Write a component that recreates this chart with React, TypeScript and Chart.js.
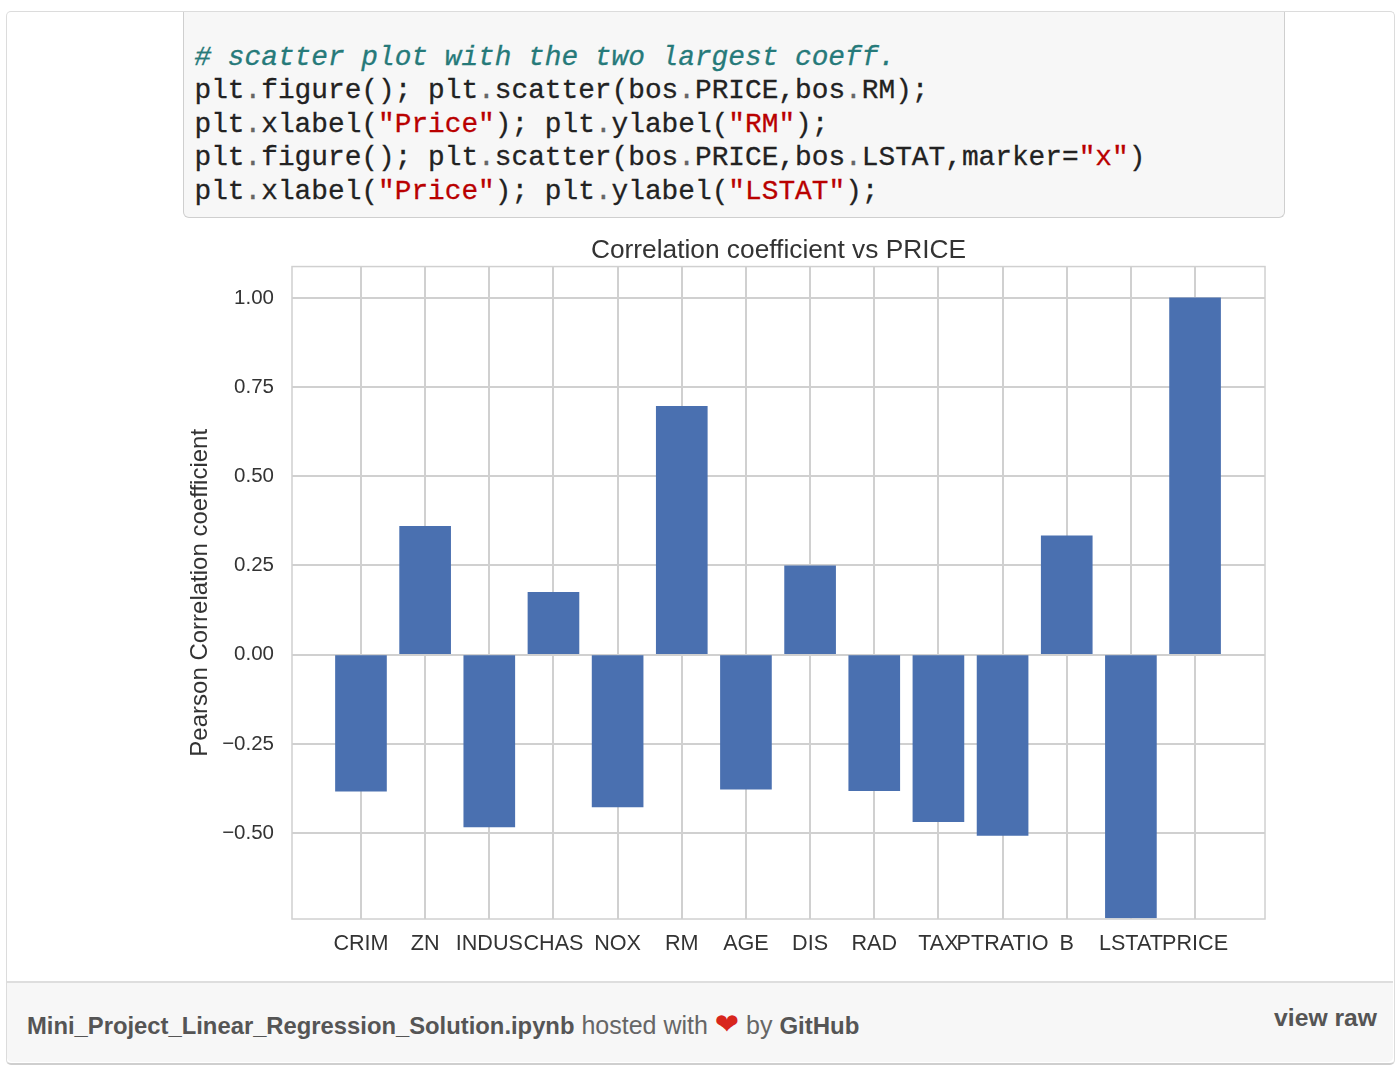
import React, { useEffect, useRef } from "react";
import { Chart, registerables } from "chart.js";

Chart.register(...registerables);

const categories = ["CRIM", "ZN", "INDUS", "CHAS", "NOX", "RM", "AGE", "DIS", "RAD", "TAX", "PTRATIO", "B", "LSTAT", "PRICE"];
const coefficients = [-0.383, 0.36, -0.483, 0.175, -0.427, 0.696, -0.377, 0.249, -0.381, -0.468, -0.507, 0.333, -0.738, 1.0];
const yTicks = [-0.5, -0.25, 0, 0.25, 0.5, 0.75, 1.0];
const chartTitle = "Correlation coefficient vs PRICE";
const yTitle = "Pearson Correlation coefficient";

const textColor = "#333333";
const gridColor = "#d0d0d0";
const sans = "'Liberation Sans', Arial, sans-serif";
const mono = "'Liberation Mono', monospace";

const frame = {
  id: "frame",
  afterDatasetsDraw(chart: any) {
    const { ctx, chartArea: a } = chart;
    ctx.save();
    ctx.strokeStyle = gridColor;
    ctx.lineWidth = 1.5;
    ctx.strokeRect(a.left, a.top, a.right - a.left, a.bottom - a.top);
    ctx.restore();
  },
};

const Str = ({ children }: any) => <span style={{ color: "#b90000" }}>{children}</span>;
const Dot = () => <span style={{ color: "#666" }}>.</span>;

export default function App() {
  const ref = useRef<HTMLCanvasElement>(null);
  useEffect(() => {
    const chart = new Chart(ref.current as HTMLCanvasElement, {
      type: "bar",
      data: {
        datasets: [
          {
            data: coefficients.map((v, i) => ({ x: i, y: v })),
            backgroundColor: "#4a70b0",
            barThickness: 51,
          },
        ],
      },
      plugins: [frame],
      options: {
        animation: false,
        responsive: false,
        layout: { padding: { top: 0, right: 25, bottom: 0, left: 0 } },
        plugins: {
          legend: { display: false },
          tooltip: { enabled: false },
          title: {
            display: true,
            fullSize: false,
            text: chartTitle,
            color: textColor,
            font: { family: sans, size: 26.3, weight: "normal" },
            padding: { top: 5, bottom: 0 },
          },
        },
        scales: {
          x: {
            type: "linear",
            offset: false,
            min: -1.075,
            max: 14.09,
            afterBuildTicks: (s: any) => {
              s.ticks = categories.map((_, i) => ({ value: i }));
            },
            afterFit: (s: any) => {
              s.height = 51;
            },
            ticks: {
              autoSkip: false,
              maxRotation: 0,
              minRotation: 0,
              padding: 12.5,
              color: textColor,
              font: { family: sans, size: 21.6 },
              callback: (v: any) => categories[v] ?? "",
            },
            grid: { offset: false, color: gridColor, lineWidth: 2, drawTicks: false },
            border: { display: false },
          },
          y: {
            type: "linear",
            min: -0.741,
            max: 1.088,
            afterBuildTicks: (s: any) => {
              s.ticks = yTicks.map((value) => ({ value }));
            },
            afterFit: (s: any) => {
              s.width = 122;
            },
            ticks: {
              padding: 18,
              color: textColor,
              font: { family: sans, size: 20.5 },
              callback: (v: any) => {
                const t = Math.abs(Number(v)).toFixed(2);
                return Number(v) < 0 ? "\u2212" + t : t;
              },
            },
            title: {
              display: true,
              text: yTitle,
              color: textColor,
              font: { family: sans, size: 24 },
              padding: { top: 16, bottom: 0 },
            },
            grid: { color: gridColor, lineWidth: 2, drawTicks: false },
            border: { display: false },
          },
        },
      },
    } as any);
    return () => chart.destroy();
  }, []);

  return (
    <div style={{ position: "absolute", left: 0, top: 0, width: 1400, height: 1070, background: "#fff", overflow: "hidden" }}>
      <div
        style={{
          position: "absolute", left: 6, top: 11, width: 1387, height: 1051,
          border: "1.5px solid #dcdcdc", borderBottom: "2px solid #cfcfcf", borderRadius: 5, boxSizing: "content-box",
        }}
      />
      <div
        style={{
          position: "absolute", left: 183, top: 12, width: 1100, height: 205,
          background: "#f7f7f7", border: "1px solid #cfcfcf", borderTop: "none",
          borderRadius: "0 0 6px 6px", boxSizing: "content-box",
        }}
      />
      <pre
        style={{
          position: "absolute", left: 194.5, top: 41, margin: 0, fontFamily: mono, fontSize: 27.8,
          lineHeight: "33.4px", color: "#222", WebkitTextStroke: "0.3px",
        }}
      >
        <span style={{ color: "#267a7a", fontStyle: "italic" }}># scatter plot with the two largest coeff.</span>{"\n"}
        plt<Dot />figure(); plt<Dot />scatter(bos<Dot />PRICE,bos<Dot />RM);{"\n"}
        plt<Dot />xlabel(<Str>"Price"</Str>); plt<Dot />ylabel(<Str>"RM"</Str>);{"\n"}
        plt<Dot />figure(); plt<Dot />scatter(bos<Dot />PRICE,bos<Dot />LSTAT,marker=<Str>"x"</Str>){"\n"}
        plt<Dot />xlabel(<Str>"Price"</Str>); plt<Dot />ylabel(<Str>"LSTAT"</Str>);
      </pre>
      <canvas
        ref={ref}
        width={1120}
        height={740}
        style={{ position: "absolute", left: 170, top: 230, width: 1120, height: 740 }}
      />
      <div
        style={{
          position: "absolute", left: 7, top: 981, width: 1386, height: 81, background: "#f7f7f7",
          borderTop: "2px solid #dedede", borderRadius: "0 0 5px 5px", boxSizing: "border-box",
        }}
      />
      <div
        style={{
          position: "absolute", left: 27, top: 1010, fontFamily: sans, fontSize: 25, lineHeight: "30px",
          color: "#666", whiteSpace: "nowrap",
        }}
      >
        <b style={{ color: "#555", fontSize: 23.8 }}>Mini_Project_Linear_Regression_Solution.ipynb</b> hosted with{" "}
        <span style={{ color: "#d8261c", fontFamily: "'DejaVu Sans'", fontSize: 29, lineHeight: "20px" }}>{"\u2764"}</span> by{" "}
        <b style={{ color: "#555", fontSize: 24 }}>GitHub</b>
      </div>
      <div
        style={{
          position: "absolute", right: 23, top: 1003, fontFamily: sans, fontSize: 24.7, lineHeight: "30px",
          fontWeight: "bold", color: "#555", whiteSpace: "nowrap",
        }}
      >
        view raw
      </div>
    </div>
  );
}
